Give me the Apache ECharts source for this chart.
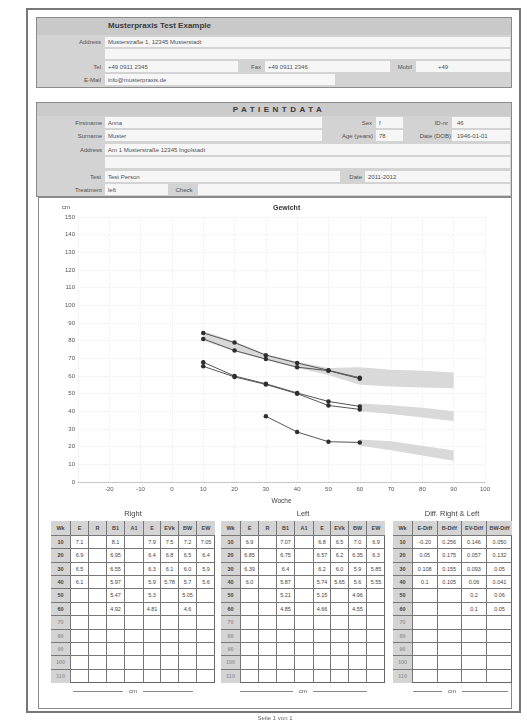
<!DOCTYPE html>
<html><head><meta charset="utf-8">
<script src="https://cdn.jsdelivr.net/npm/echarts@6/dist/echarts.min.js"></script>
<style>
html,body{margin:0;padding:0;background:#fff;width:527px;height:722px;overflow:hidden;font-family:'Liberation Sans',Arial,sans-serif;}
</style>
</head><body>
<script>
// ---------- chart data ----------
const weeks = [10, 20, 30, 40, 50, 60];
const seriesA = [84.4, 78.9, 71.8, 67.4, 63.2, 59.0];
const seriesB = [81.0, 74.4, 69.6, 65.0, 63.0, 58.5];
const seriesC1 = [67.8, 60.0, 55.6, 50.4, 45.6, 42.8];
const seriesC2 = [65.5, 59.5, 55.2, 50.0, 43.3, 41.1];
const seriesD = [null, null, 37.2, 28.3, 22.8, 22.4];
const band1Weeks = [10, 20, 30, 40, 50, 60, 70, 80, 90];
const band1Low  = [80.0, 74.0, 69.0, 64.5, 60.5, 55.0, 54.0, 53.5, 53.0];
const band1High = [85.5, 79.5, 72.5, 68.0, 64.5, 65.0, 63.5, 63.0, 62.0];
const band2Weeks = [60, 70, 80, 90];
const band2Low  = [40.0, 38.5, 36.5, 34.5];
const band2High = [44.4, 43.5, 42.0, 40.0];
const band3Weeks = [60, 70, 80, 90];
const band3Low  = [20.5, 18.0, 15.0, 12.0];
const band3High = [24.0, 23.0, 20.5, 17.8];

// ---------- table data ----------
const rowLabels = ['10', '20', '30', '40', '50', '60', '70', '80', '90', '100', '110'];
const rightHeader = ['Wk', 'E', 'R', 'B1', 'A1', 'E', 'EVk', 'BW', 'EW'];
const rightValues = [
  ['7.1', '', '8.1', '', '7.9', '7.5', '7.2', '7.05'],
  ['6.9', '', '6.95', '', '6.4', '6.8', '6.5', '6.4'],
  ['6.5', '', '6.55', '', '6.3', '6.1', '6.0', '5.9'],
  ['6.1', '', '5.97', '', '5.9', '5.78', '5.7', '5.6'],
  ['', '', '5.47', '', '5.3', '', '5.05', ''],
  ['', '', '4.92', '', '4.81', '', '4.6', '']
];
const leftHeader = ['Wk', 'E', 'R', 'B1', 'A1', 'E', 'EVk', 'BW', 'EW'];
const leftValues = [
  ['6.9', '', '7.07', '', '6.8', '6.5', '7.0', '6.9'],
  ['6.85', '', '6.75', '', '6.57', '6.2', '6.35', '6.3'],
  ['6.39', '', '6.4', '', '6.2', '6.0', '5.9', '5.85'],
  ['6.0', '', '5.87', '', '5.74', '5.65', '5.6', '5.55'],
  ['', '', '5.21', '', '5.15', '', '4.96', ''],
  ['', '', '4.85', '', '4.66', '', '4.55', '']
];
const diffHeader = ['Wk', 'E-Diff', 'B-Diff', 'EV-Diff', 'BW-Diff'];
const diffValues = [
  ['-0.20', '0.256', '0.146', '0.050'],
  ['0.05', '0.175', '0.057', '0.132'],
  ['0.108', '0.155', '0.093', '0.05'],
  ['0.1', '0.105', '0.06', '0.041'],
  ['', '', '0.2', '0.06'],
  ['', '', '0.1', '0.05']
];

// ---------- helpers ----------
function el(css, text) {
  const d = document.createElement('div');
  d.style.cssText = 'position:absolute;box-sizing:border-box;' + css;
  if (text != null) d.textContent = text;
  document.body.appendChild(d);
  return d;
}
function rect(x, y, w, h, bg, border) {
  return el(`left:${x}px;top:${y}px;width:${w}px;height:${h}px;background:${bg || 'transparent'};${border ? 'border:' + border + ';' : ''}`);
}
function txt(x, y, s, o) {
  o = o || {};
  const size = o.size || 6, color = o.color || '#505050';
  let pos;
  if (o.align === 'right') pos = `left:${x - 200}px;width:200px;text-align:right;`;
  else if (o.align === 'center') pos = `left:${x - 150}px;width:300px;text-align:center;`;
  else pos = `left:${x}px;`;
  return el(`${pos}top:${y}px;font-size:${size}px;line-height:1;white-space:nowrap;color:${color};` +
    `${o.bold ? 'font-weight:bold;' : ''}${o.ls ? 'letter-spacing:' + o.ls + 'px;' : ''}`, s);
}
const W = '#f6f6f6';

// ---------- Box 1: practice ----------
rect(36, 17, 476, 71, '#d3d3d3', '1px solid #8a8a8a');
rect(37, 18, 474, 17, '#c9c9c9');
txt(108, 22, 'Musterpraxis Test Example', {size: 8, bold: true, color: '#3a3a3a'});
[[105, 37, 405, 10], [105, 49, 405, 10], [105, 61, 133, 11], [265, 61, 125, 11], [416, 61, 94, 11], [105, 74, 230, 11]]
  .forEach(r => rect(r[0], r[1], r[2], r[3], W));
txt(101, 39, 'Address', {align: 'right'});
txt(101, 63.5, 'Tel', {align: 'right'});
txt(101, 76.5, 'E-Mail', {align: 'right'});
txt(261, 63.5, 'Fax', {align: 'right'});
txt(412, 63.5, 'Mobil', {align: 'right'});
txt(108, 39, 'Musterstraße 1, 12345 Musterstadt');
txt(108, 63.5, '+49 0911 2345');
txt(268, 63.5, '+49 0911 2346');
txt(438, 63.5, '+49');
txt(108, 76.5, 'info@musterpraxis.de');

// ---------- Box 2: patient data ----------
rect(36, 102, 476, 95, '#d3d3d3', '1px solid #8a8a8a');
rect(37, 103, 474, 13, '#cbcbcb');
txt(279, 106, 'PATIENTDATA', {align: 'center', size: 8, bold: true, ls: 3.5, color: '#3a3a3a'});
[[105, 117, 217, 11], [376, 117, 27, 11], [452, 117, 58, 11],
 [105, 130, 217, 11], [376, 130, 27, 11], [452, 130, 58, 11],
 [105, 144, 405, 11], [105, 157, 405, 11],
 [105, 171, 235, 11], [365, 171, 145, 11],
 [105, 184, 63, 11], [198, 184, 312, 11]].forEach(r => rect(r[0], r[1], r[2], r[3], W));
txt(102, 119.5, 'Firstname', {align: 'right'});
txt(372, 119.5, 'Sex', {align: 'right'});
txt(448, 119.5, 'ID-nr', {align: 'right'});
txt(102, 132.5, 'Surname', {align: 'right'});
txt(373, 132.5, 'Age (years)', {align: 'right'});
txt(451, 132.5, 'Date (DOB)', {align: 'right'});
txt(102, 146.5, 'Address', {align: 'right'});
txt(101, 173.5, 'Test', {align: 'right'});
txt(362, 173.5, 'Date', {align: 'right'});
txt(102, 186.5, 'Treatment', {align: 'right'});
txt(184, 186.5, 'Check', {align: 'center'});
txt(108, 119.5, 'Anna'); txt(379, 119.5, 'f'); txt(457, 119.5, '46');
txt(108, 132.5, 'Muster'); txt(379, 132.5, '78'); txt(457, 132.5, '1946-01-01');
txt(108, 146.5, 'Am 1 Musterstraße 12345 Ingolstadt');
txt(108, 173.5, 'Test Person'); txt(368, 173.5, '2011-2012');
txt(108, 186.5, 'left');

// ---------- Box 3: chart and tables ----------
rect(38, 197, 474, 512, '#fff', '1px solid #8a8a8a');
const chartDiv = el('left:40px;top:199px;width:470px;height:311px;');

function makeTable(x, y, widths, header, values) {
  const headH = 15, rowH = 13.36, n = rowLabels.length;
  const TW = widths.reduce((a, b) => a + b, 0);
  rect(x, y, TW, headH + rowH * n, '#fff', '1px solid #666');
  for (let r = 0; r <= n; r++) {
    const top = r === 0 ? y : y + headH + (r - 1) * rowH;
    const h = r === 0 ? headH : rowH;
    let left = x;
    widths.forEach((w, c) => {
      let s = '';
      if (r === 0) s = header[c];
      else if (c === 0) s = rowLabels[r - 1];
      else if (values[r - 1]) s = values[r - 1][c - 1] || '';
      const gray = r === 0 || c === 0;
      const color = (c === 0 && r > 6) ? '#999' : '#444';
      el(`left:${left}px;top:${top}px;width:${w}px;height:${h}px;` +
        `background:${gray ? '#d4d4d4' : 'transparent'};` +
        `${c < widths.length - 1 ? 'border-right:1px solid #777;' : ''}` +
        `${r < n ? 'border-bottom:1px solid #777;' : ''}` +
        `font-size:5.5px;line-height:${h}px;text-align:center;color:${color};white-space:nowrap;overflow:hidden;` +
        `${gray ? 'font-weight:bold;' : ''}`, s);
      left += w;
    });
  }
}
makeTable(51, 521, [20, 18, 18, 18, 19, 17, 18, 18, 18], rightHeader, rightValues);
makeTable(221, 521, [20, 18, 18, 18, 19, 17, 18, 18, 18], leftHeader, leftValues);
makeTable(393, 521, [20, 24.5, 24.5, 25, 25], diffHeader, diffValues);

txt(133, 510, 'Right', {align: 'center', size: 7.5, color: '#444'});
txt(303, 510, 'Left', {align: 'center', size: 7.5, color: '#444'});
txt(452, 510, 'Diff. Right & Left', {align: 'center', size: 7.5, color: '#444'});

[[73, 193, 133], [240, 367, 303], [413, 508, 452]].forEach(l => {
  rect(l[0], 691, l[1] - l[0], 1, '#888');
  const t = txt(l[2], 688, 'cm', {align: 'center', size: 6, color: '#555'});
  t.style.width = '20px'; t.style.left = (l[2] - 10) + 'px'; t.style.background = '#fff';
});
txt(275, 715, 'Seite 1 von 1', {align: 'center', size: 6, color: '#666'});

// outer page border
rect(26, 8, 495, 705, 'transparent', '2px solid #777');

// ---------- ECharts ----------
const chart = echarts.init(chartDiv, null, {renderer: 'canvas'});
const pairs = (xs, ys) => xs.map((x, i) => [x, ys[i]]).filter(p => p[1] != null);
function band(name, xs, low, high) {
  return {
    type: 'custom', name: name, silent: true, z: 1,
    data: pairs(xs, high),
    encode: {x: 0, y: 1},
    renderItem: function (params, api) {
      if (params.dataIndex !== 0) return null;
      const top = xs.map((x, i) => api.coord([x, high[i]]));
      const bot = xs.map((x, i) => api.coord([x, low[i]])).reverse();
      return {type: 'polygon', shape: {points: top.concat(bot)}, style: {fill: '#d9d9d9'}};
    }
  };
}
function line(name, ys) {
  return {type: 'line', name: name, data: pairs(weeks, ys), symbol: 'circle', symbolSize: 4.5,
    itemStyle: {color: '#2e2e2e'}, lineStyle: {color: '#555', width: 1}, z: 5};
}
const font = 'Liberation Sans';
chart.setOption({
  animation: false,
  title: {text: 'Gewicht', left: 228, top: 1, textStyle: {fontSize: 7, fontWeight: 'bold', color: '#333', fontFamily: font}},
  grid: {left: 38, right: 25, top: 18, bottom: 23},
  xAxis: {
    type: 'value', min: -30, max: 100, interval: 10,
    name: 'Woche', nameLocation: 'middle', nameGap: 16,
    nameTextStyle: {fontSize: 6.5, color: '#444', fontFamily: font},
    axisLabel: {showMinLabel: false, fontSize: 6, color: '#555', margin: 4, fontFamily: font},
    axisLine: {lineStyle: {color: '#bbb', type: 'dotted'}},
    axisTick: {show: false},
    splitLine: {show: true, lineStyle: {color: '#eee', type: 'dotted'}}
  },
  yAxis: {
    type: 'value', min: 0, max: 150, interval: 10,
    name: 'cm', nameGap: 7,
    nameTextStyle: {fontSize: 6, color: '#444', align: 'right', padding: [0, 8, 0, 0], fontFamily: font},
    axisLine: {show: false, onZero: false},
    axisTick: {show: false},
    axisLabel: {fontSize: 6, color: '#555', margin: 3, fontFamily: font},
    splitLine: {show: true, lineStyle: {color: '#eee', type: 'dotted'}}
  },
  series: [
    band('b1', band1Weeks, band1Low, band1High),
    band('b2', band2Weeks, band2Low, band2High),
    band('b3', band3Weeks, band3Low, band3High),
    line('A', seriesA), line('B', seriesB), line('C1', seriesC1), line('C2', seriesC2), line('D', seriesD)
  ]
});
</script>
</body></html>
